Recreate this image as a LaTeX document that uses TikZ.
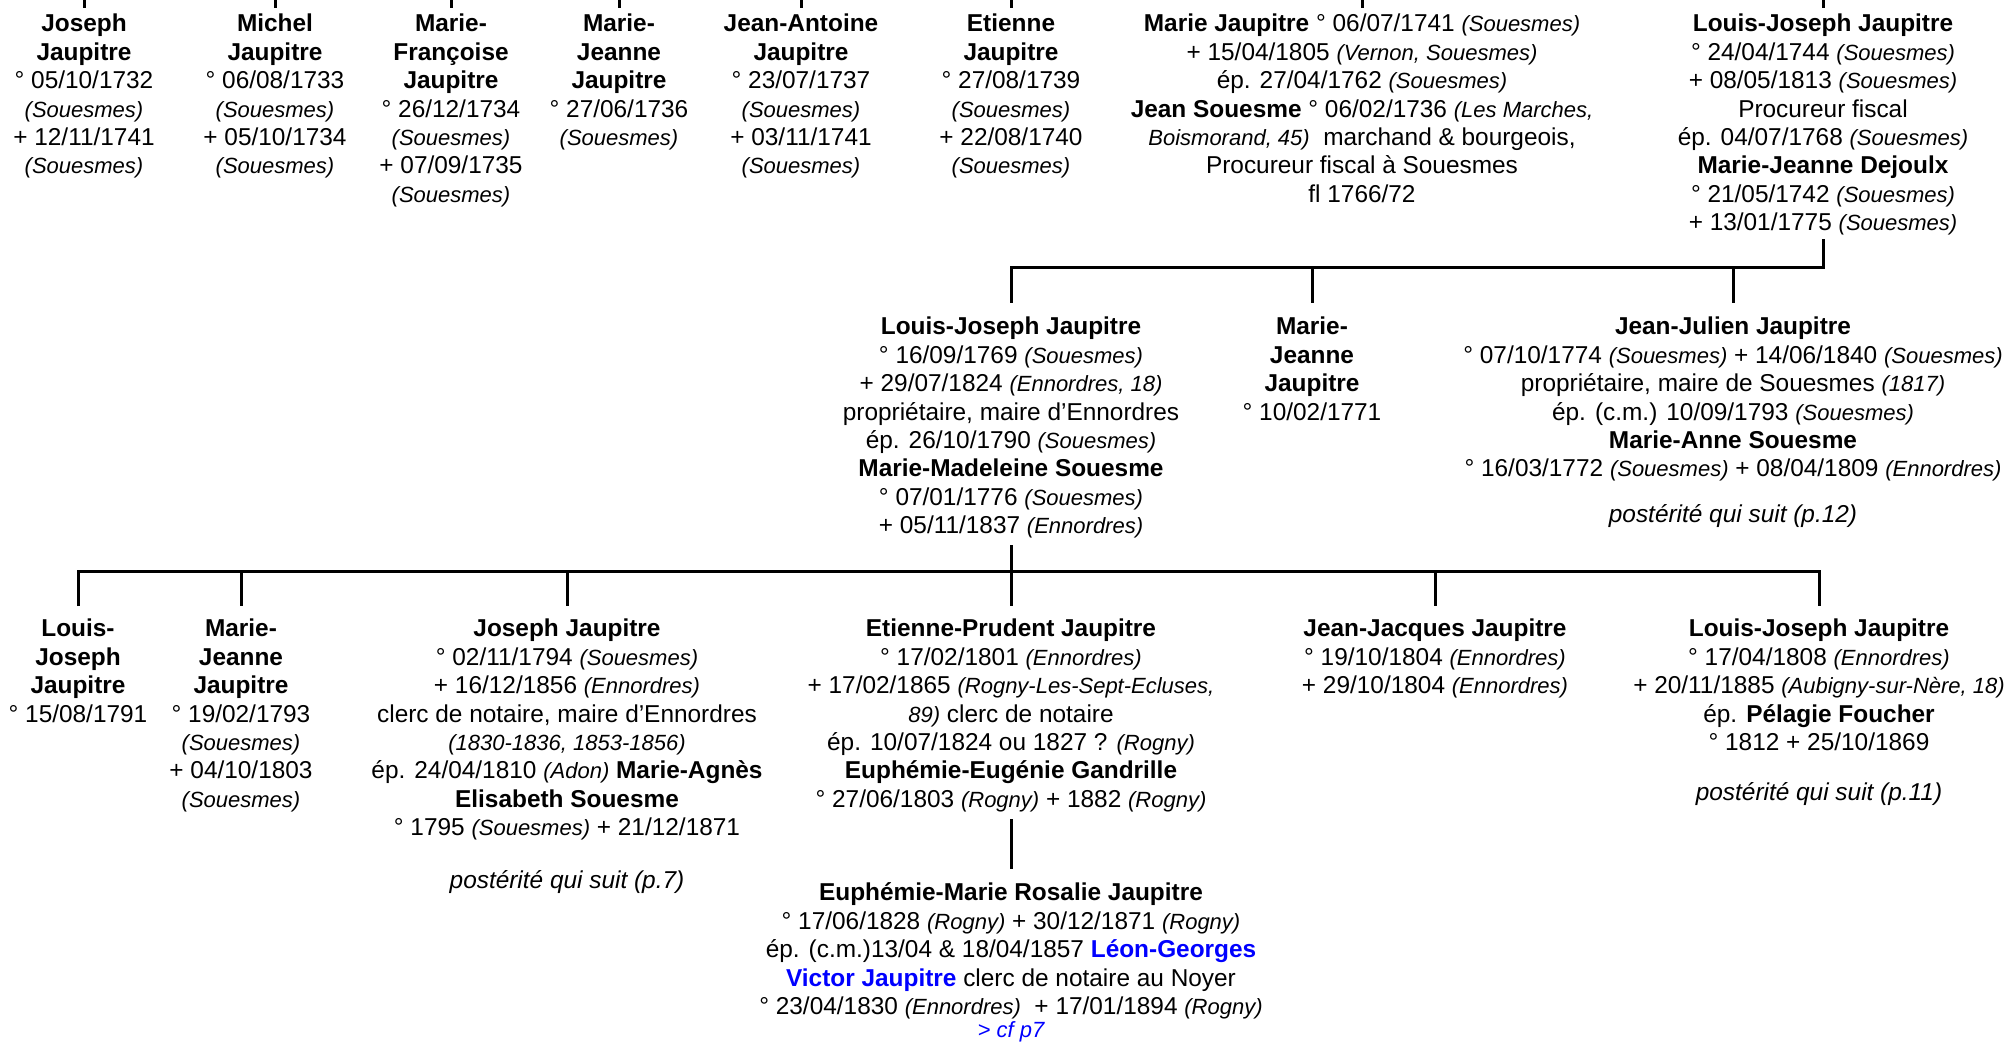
\documentclass[tikz,border=0pt]{standalone}
\usepackage{fontspec}
\setmainfont{Liberation Sans}
\usepackage{xcolor}
\definecolor{linkblue}{RGB}{0,0,255}
\newcommand\pl[1]{{\fontsize{11pt}{14.2pt}\selectfont\itshape #1}}
\newcommand\bl[1]{\textcolor{linkblue}{\textbf{#1}}}
\begin{document}
\begin{tikzpicture}[x=0.5pt,y=-0.5pt,
  person/.style={align=center, inner sep=0pt, outer sep=0pt, anchor=north,
    font=\fontsize{12.2pt}{14.2pt}\selectfont},
  link/.style={line width=1.5pt, line join=miter}]
\useasboundingbox (0,0) rectangle (2015,1043);
% ---------- top row ----------
\node[person] (t1) at (84,12) {\strut\textbf{Joseph}\\\textbf{Jaupitre}\\° 05/10/1732\\\pl{(Souesmes)}\\+ 12/11/1741\\\pl{(Souesmes)}\strut};
\node[person] (t2) at (275,12) {\strut\textbf{Michel}\\\textbf{Jaupitre}\\° 06/08/1733\\\pl{(Souesmes)}\\+ 05/10/1734\\\pl{(Souesmes)}\strut};
\node[person] (t3) at (451,12) {\strut\textbf{Marie-}\\\textbf{Françoise}\\\textbf{Jaupitre}\\° 26/12/1734\\\pl{(Souesmes)}\\+ 07/09/1735\\\pl{(Souesmes)}\strut};
\node[person] (t4) at (619,12) {\strut\textbf{Marie-}\\\textbf{Jeanne}\\\textbf{Jaupitre}\\° 27/06/1736\\\pl{(Souesmes)}\strut};
\node[person] (t5) at (801,12) {\strut\textbf{Jean-Antoine}\\\textbf{Jaupitre}\\° 23/07/1737\\\pl{(Souesmes)}\\+ 03/11/1741\\\pl{(Souesmes)}\strut};
\node[person] (t6) at (1011,12) {\strut\textbf{Etienne}\\\textbf{Jaupitre}\\° 27/08/1739\\\pl{(Souesmes)}\\+ 22/08/1740\\\pl{(Souesmes)}\strut};
\node[person] (t7) at (1362,12) {\strut\textbf{Marie Jaupitre} ° 06/07/1741 \pl{(Souesmes)}\\+ 15/04/1805 \pl{(Vernon, Souesmes)}\\ép. 27/04/1762 \pl{(Souesmes)}\\\textbf{Jean Souesme} ° 06/02/1736 \pl{(Les Marches,}\\\pl{Boismorand, 45)}\ \ marchand \& bourgeois,\\Procureur fiscal à Souesmes\\fl 1766/72\strut};
\node[person] (t8) at (1823,12) {\strut\textbf{Louis-Joseph Jaupitre}\\° 24/04/1744 \pl{(Souesmes)}\\+ 08/05/1813 \pl{(Souesmes)}\\Procureur fiscal\\ép. 04/07/1768 \pl{(Souesmes)}\\\textbf{Marie-Jeanne Dejoulx}\\° 21/05/1742 \pl{(Souesmes)}\\+ 13/01/1775 \pl{(Souesmes)}\strut};
% ---------- middle row ----------
\node[person] (m1) at (1011,315) {\strut\textbf{Louis-Joseph Jaupitre}\\° 16/09/1769 \pl{(Souesmes)}\\+ 29/07/1824 \pl{(Ennordres, 18)}\\propriétaire, maire d’Ennordres\\ép. 26/10/1790 \pl{(Souesmes)}\\\textbf{Marie-Madeleine Souesme}\\° 07/01/1776 \pl{(Souesmes)}\\+ 05/11/1837 \pl{(Ennordres)}\strut};
\node[person] (m2) at (1312,315) {\strut\textbf{Marie-}\\\textbf{Jeanne}\\\textbf{Jaupitre}\\° 10/02/1771\strut};
\node[person] (m3) at (1733,315) {\strut\textbf{Jean-Julien Jaupitre}\\° 07/10/1774 \pl{(Souesmes)} + 14/06/1840 \pl{(Souesmes)}\\propriétaire, maire de Souesmes \pl{(1817)}\\ép. (c.m.) 10/09/1793 \pl{(Souesmes)}\\\textbf{Marie-Anne Souesme}\\° 16/03/1772 \pl{(Souesmes)} + 08/04/1809 \pl{(Ennordres)}\\[8.5pt]\textit{postérité qui suit (p.12)}\strut};
% ---------- bottom row ----------
\node[person] (b1) at (78,617) {\strut\textbf{Louis-}\\\textbf{Joseph}\\\textbf{Jaupitre}\\° 15/08/1791\strut};
\node[person] (b2) at (241,617) {\strut\textbf{Marie-}\\\textbf{Jeanne}\\\textbf{Jaupitre}\\° 19/02/1793\\\pl{(Souesmes)}\\+ 04/10/1803\\\pl{(Souesmes)}\strut};
\node[person] (b3) at (567,617) {\strut\textbf{Joseph Jaupitre}\\° 02/11/1794 \pl{(Souesmes)}\\+ 16/12/1856 \pl{(Ennordres)}\\clerc de notaire, maire d’Ennordres\\\pl{(1830-1836, 1853-1856)}\\ép. 24/04/1810 \pl{(Adon)} \textbf{Marie-Agnès}\\\textbf{Elisabeth Souesme}\\° 1795 \pl{(Souesmes)} + 21/12/1871\\[12pt]\textit{postérité qui suit (p.7)}\strut};
\node[person] (b4) at (1011,617) {\strut\textbf{Etienne-Prudent Jaupitre}\\° 17/02/1801 \pl{(Ennordres)}\\+ 17/02/1865 \pl{(Rogny-Les-Sept-Ecluses,}\\\pl{89)} clerc de notaire\\ép. 10/07/1824 ou 1827 ? \pl{(Rogny)}\\\textbf{Euphémie-Eugénie Gandrille}\\° 27/06/1803 \pl{(Rogny)} + 1882 \pl{(Rogny)}\strut};
\node[person] (b5) at (1435,617) {\strut\textbf{Jean-Jacques Jaupitre}\\° 19/10/1804 \pl{(Ennordres)}\\+ 29/10/1804 \pl{(Ennordres)}\strut};
\node[person] (b6) at (1819,617) {\strut\textbf{Louis-Joseph Jaupitre}\\° 17/04/1808 \pl{(Ennordres)}\\+ 20/11/1885 \pl{(Aubigny-sur-Nère, 18)}\\ép. \textbf{Pélagie Foucher}\\° 1812 + 25/10/1869\\[11pt]\textit{postérité qui suit (p.11)}\strut};
% ---------- last generation ----------
\node[person] (e1) at (1011,881) {\strut\textbf{Euphémie-Marie Rosalie Jaupitre}\\° 17/06/1828 \pl{(Rogny)} + 30/12/1871 \pl{(Rogny)}\\ép. (c.m.)13/04 \& 18/04/1857 \bl{Léon-Georges}\\\bl{Victor Jaupitre} clerc de notaire au Noyer\\° 23/04/1830 \pl{(Ennordres)}\ \ + 17/01/1894 \pl{(Rogny)}\\[-2.5pt]{\fontsize{11pt}{14.2pt}\selectfont\itshape\color{linkblue}> cf p7}};
% ---------- connectors ----------
\coordinate (topedge) at (0,0);
\coordinate (busA) at (0,268);
\coordinate (busB) at (0,571);
\foreach \n in {t1,t2,t3,t4,t5,t6,t7,t8}
  \draw[link, shorten >=2pt] (\n.north |- topedge) -- (\n.north);
\draw[link, shorten >=6pt] (t8.south) -- (t8.south |- busA) -- (m1.north |- busA) -- (m1.north);
\draw[link, shorten >=6pt] (m2.north |- busA) -- (m2.north);
\draw[link, shorten >=6pt] (m3.north |- busA) -- (m3.north);
\draw[link, shorten <=5.5pt, shorten >=5.5pt] (b1.north) -- (b1.north |- busB) -- (b6.north |- busB) -- (b6.north);
\draw[link, shorten <=1.5pt, shorten >=5.5pt] (m1.south) -- (b4.north);
\foreach \n in {b2,b3,b5}
  \draw[link, shorten >=5.5pt] (\n.north |- busB) -- (\n.north);
\draw[link, shorten <=1.75pt, shorten >=6pt] (b4.south) -- (e1.north);
\end{tikzpicture}
\end{document}
